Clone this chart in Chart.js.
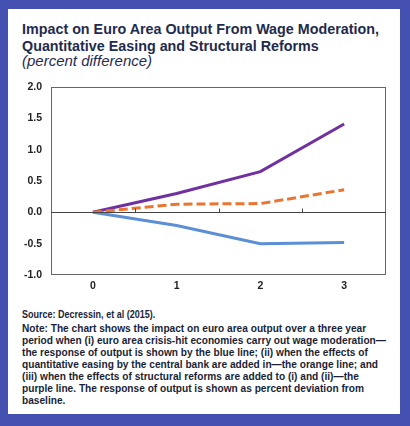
<!DOCTYPE html>
<html>
<head>
<meta charset="utf-8">
<script src="https://cdn.jsdelivr.net/npm/chart.js@4"></script>
<style>
  html, body { margin: 0; padding: 0; }
  body { width: 410px; height: 426px; background: #4450b0; position: relative; overflow: hidden;
         font-family: "Liberation Sans", Arial, sans-serif; }
  .panel { position: absolute; left: 8px; top: 9px; width: 392px; height: 405px; background: #fff; }
  .fit { position: absolute; white-space: nowrap; transform-origin: 0 0; }
  .title { left: 22px; top: 20px; font-weight: bold; font-size: 15px; line-height: 17px; color: #1f2b4d; }
  .subtitle { left: 22px; top: 52px; font-style: italic; font-size: 15px; line-height: 17px; color: #1f2b4d; }
  .chart { position: absolute; left: 8px; top: 60px; width: 392px; height: 240px; }
  .source { left: 22px; top: 308px; font-weight: bold; font-size: 10.5px; line-height: 12px; color: #1a1f36; }
  .note { left: 22px; top: 322px; font-weight: bold; font-size: 10.5px; line-height: 12px; color: #1a1f36; }
</style>
</head>
<body>
<div class="panel"></div>
<div class="fit title" data-w="357">Impact on Euro Area Output From Wage Moderation,<br>Quantitative Easing and Structural Reforms</div>
<div class="fit subtitle">(percent difference)</div>
<div class="chart"><canvas id="c" width="392" height="240"></canvas></div>
<div class="fit source" data-w="133">Source: Decressin, et al (2015).</div>
<div class="fit note" data-w="364">Note: The chart shows the impact on euro area output over a three year<br>period when (i) euro area crisis-hit economies carry out wage moderation&mdash;<br>the response of output is shown by the blue line; (ii) when the effects of<br>quantitative easing by the central bank are added in&mdash;the orange line; and<br>(iii) when the effects of structural reforms are added to (i) and (ii)&mdash;the<br>purple line. The response of output is shown as percent deviation from<br>baseline.</div>
<script>
// years after start
const years = ['0', '1', '2', '3'];
// wage moderation only (blue)
const wageModeration = [0, -0.21, -0.5, -0.48];
// plus quantitative easing (orange)
const plusQE = [0, 0.13, 0.14, 0.36];
// plus structural reforms (purple)
const plusReforms = [0, 0.3, 0.65, 1.41];
const yTicks = [-1.0, -0.5, 0.0, 0.5, 1.0, 1.5, 2.0];

// squeeze wide text blocks to the width they have in the picture
document.querySelectorAll('.fit[data-w]').forEach(el => {
  const k = +el.dataset.w / el.scrollWidth;
  el.style.transform = `scaleX(${k})`;
});

const tickFont = { family: '"Liberation Sans", Arial, sans-serif', size: 10.5, weight: 'bold' };

// plot frame, zero line and small category ticks on the zero line
const framePlugin = {
  id: 'frame',
  afterDraw(chart) {
    const { ctx, chartArea: a, scales: { x, y } } = chart;
    ctx.save();
    ctx.strokeStyle = '#666';
    ctx.lineWidth = 1;
    ctx.strokeRect(a.left + 0.5, a.top + 0.5, a.right - a.left - 1, a.bottom - a.top - 1);
    const y0 = Math.round(y.getPixelForValue(0)) + 0.5;
    ctx.strokeStyle = '#444';
    ctx.beginPath();
    ctx.moveTo(a.left, y0);
    ctx.lineTo(a.right, y0);
    for (let i = 1; i < years.length; i++) {
      const px = Math.round((x.getPixelForValue(i - 1) + x.getPixelForValue(i)) / 2) + 0.5;
      ctx.moveTo(px, y0);
      ctx.lineTo(px, y0 - 4);
    }
    ctx.stroke();
    ctx.restore();
  }
};

new Chart(document.getElementById('c'), {
  type: 'line',
  data: {
    labels: years,
    datasets: [
      {
        label: 'Wage moderation',
        data: wageModeration,
        borderColor: '#5b8fd6',
        borderWidth: 3,
        pointRadius: 0,
        tension: 0,
      },
      {
        label: 'Plus quantitative easing',
        data: plusQE,
        borderColor: '#ea7531',
        borderWidth: 3,
        borderDash: [9, 4],
        pointRadius: 0,
        tension: 0,
      },
      {
        label: 'Plus structural reforms',
        data: plusReforms,
        borderColor: '#7030a0',
        borderWidth: 3,
        pointRadius: 0,
        tension: 0,
      },
    ],
  },
  options: {
    responsive: false,
    animation: false,
    layout: { padding: { top: 27, right: 14, left: 0, bottom: 0 } },
    plugins: { legend: { display: false }, tooltip: { enabled: false } },
    scales: {
      x: {
        offset: true,
        grid: { display: false, drawTicks: false },
        border: { display: false },
        ticks: { color: '#222', font: tickFont, padding: 5 },
        afterFit(s) { s.height = 25; },
      },
      y: {
        min: -1,
        max: 2,
        afterBuildTicks(s) { s.ticks = yTicks.map(v => ({ value: v })); },
        grid: { display: false, drawTicks: false },
        border: { display: false },
        ticks: { color: '#222', font: tickFont, padding: 9, callback: v => v.toFixed(1) },
        afterFit(s) { s.width = 43; },
      },
    },
  },
  plugins: [framePlugin],
});
</script>
</body>
</html>
